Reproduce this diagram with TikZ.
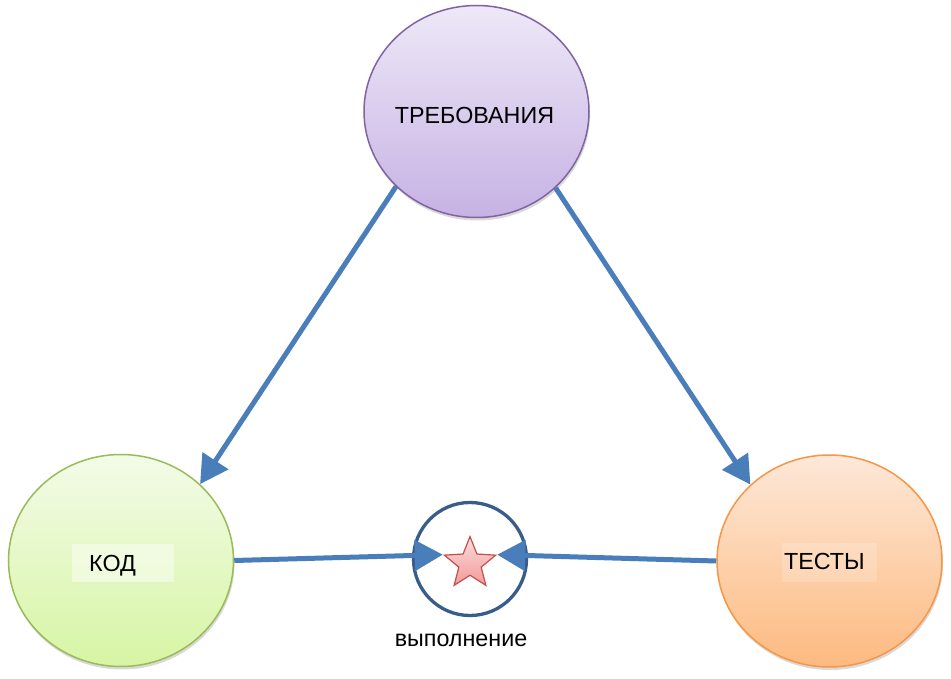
\documentclass[tikz,border=0pt]{standalone}
\usepackage{fontspec}
\setmainfont{Liberation Sans}
\usetikzlibrary{shapes.geometric,arrows.meta,shadows}
\definecolor{arrowblue}{HTML}{4A7EBB}
\definecolor{ringblue}{HTML}{385D8A}
\definecolor{purpleedge}{HTML}{8064A2}
\definecolor{purpletop}{HTML}{EEE8F7}
\definecolor{purplebot}{HTML}{C6B2E4}
\definecolor{greenedge}{HTML}{9BBB59}
\definecolor{greentop}{HTML}{F3FBE8}
\definecolor{greenbot}{HTML}{D7F5A4}
\definecolor{orangeedge}{HTML}{F79646}
\definecolor{orangetop}{HTML}{FDE8D8}
\definecolor{orangebot}{HTML}{FDBA80}
\definecolor{staredge}{HTML}{C0504D}
\definecolor{startop}{HTML}{FCDCDC}
\definecolor{starbot}{HTML}{F29A9A}
\tikzset{
  bigcirc/.style={ellipse, inner sep=0pt, minimum width=225pt, minimum height=212pt, line width=1.5pt,
    drop shadow={shadow xshift=1pt, shadow yshift=-3pt, opacity=0.15, fill=black}},
  lbl/.style={anchor=base, inner sep=0pt, font=\fontsize{23.3}{26}\selectfont},
  conn/.style={draw=arrowblue, line width=5pt, -{Triangle[length=28pt, width=30pt]}},
  ring/.style={circle, draw=ringblue, line width=3.3pt, minimum size=113pt, inner sep=0pt},
  starshape/.style={star, star points=5, star point ratio=2.3, minimum size=54pt, inner sep=0pt,
    draw=staredge, line width=1.2pt, top color=startop, bottom color=starbot},
  tbox/.style={rectangle, inner sep=0pt, draw=none}
}
\begin{document}
\begin{tikzpicture}[x=1pt,y=-1pt]
\useasboundingbox (0,0) rectangle (951,679);
\fill[white] (0,0) rectangle (951,679);
% main ellipses
\node[bigcirc, draw=purpleedge, top color=purpletop, bottom color=purplebot] (req) at (476.5,111.5) {};
\node[bigcirc, draw=greenedge, top color=greentop, bottom color=greenbot] (code) at (121,560.5) {};
\node[bigcirc, draw=orangeedge, top color=orangetop, bottom color=orangebot] (tests) at (829.5,561) {};
% label boxes
\node[tbox, fill=white, fill opacity=0.45, minimum width=102pt, minimum height=38pt] (kodbox) at (123,563) {};
\node[tbox, fill=white, fill opacity=0.18, minimum width=95pt, minimum height=39pt] (testbox) at (829.5,562.5) {};
% labels
\node[lbl] (reqtxt) at (474.5,123.3) {ТРЕБОВАНИЯ};
\node[lbl, anchor=base west] (codetxt) at (89,571.7) {КОД};
\node[lbl] (teststxt) at (824.5,569) {ТЕСТЫ};
% execution ring and star
\node[ring] (exec) at (470,559) {};
\node[starshape] (st) at (470,563.5) {};
\node[lbl] (exectxt) at (461,646) {выполнение};
% connectors
\draw[conn] (req.223) -- (code.44);
\draw[conn] (req.316) -- (tests.136);
\draw[conn] (code.0) -- (st.outer point 2);
\draw[conn] (tests.180) -- (st.outer point 5);
\end{tikzpicture}
\end{document}
